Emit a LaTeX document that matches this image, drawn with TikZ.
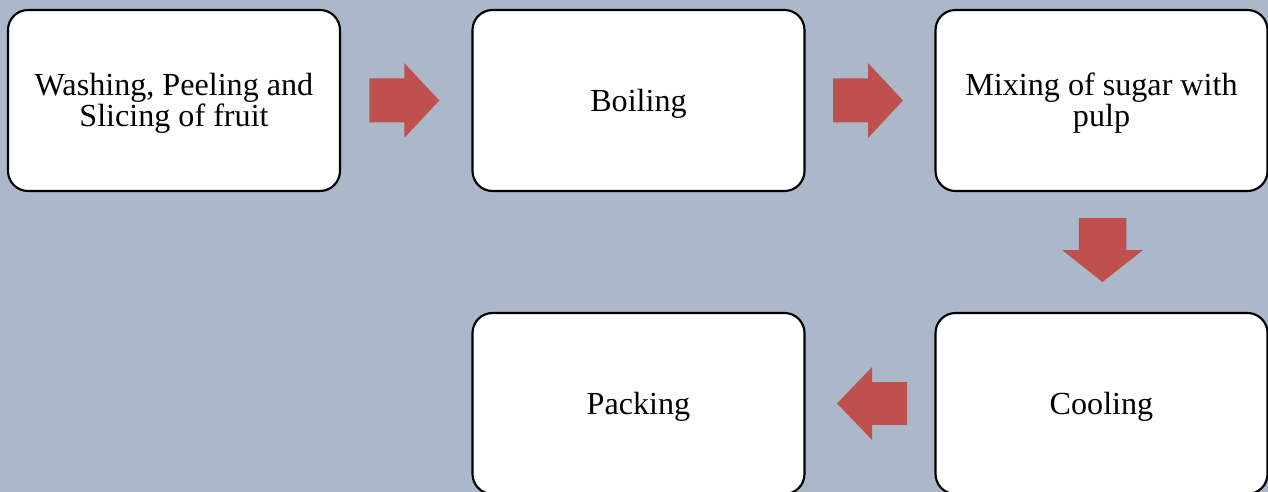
\documentclass[tikz,border=0pt]{standalone}
\usepackage{fontspec}
\setmainfont{Liberation Serif}
\usetikzlibrary{calc}
\definecolor{bgblue}{RGB}{171,184,202}
\definecolor{arrowred}{RGB}{192,80,77}
% step label: centred lines, lowered slightly inside the box (box size kept)
\newcommand{\steptext}[1]{\raisebox{-3pt}[\height][\depth]{\begin{tabular}{@{}c@{}}#1\end{tabular}}}
\tikzset{
  stepbox/.style={draw=black, line width=1.6pt, fill=white, rounded corners=15pt,
    minimum width=249pt, minimum height=135.75pt, inner sep=0pt, align=center,
    font=\fontsize{24.1}{22.5}\selectfont},
  blockarrow/.pic={\fill[arrowred] (-35,-22) -- (0,-22) -- (0,-37.5) -- (35,0)
    -- (0,37.5) -- (0,22) -- (-35,22) -- cycle;}
}
\begin{document}
\begin{tikzpicture}[x=0.75pt, y=-0.75pt]
  \useasboundingbox (0,0) rectangle (1268,492);
  \clip (0,0) rectangle (1268,492);
  \fill[bgblue] (0,0) rectangle (1268,492);

  % process steps
  \node[stepbox] (wash) at (174,100.5) {\steptext{Washing, Peeling and\\Slicing of fruit}};
  \node[stepbox] (boil) at (638.5,100.5) {\steptext{Boiling}};
  \node[stepbox] (mix)  at (1101.5,100.5) {\steptext{Mixing of sugar with\\pulp}};
  \node[stepbox] (cool) at (1101.5,403.5) {\steptext{Cooling}};
  \node[stepbox] (pack) at (638.5,403.5) {\steptext{Packing}};

  % block arrows between the steps
  \pic at ($(wash.east)!0.5!(boil.west)+(-2,0)$) {blockarrow};
  \pic at ($(boil.east)!0.5!(mix.west)+(-2,0)$) {blockarrow};
  \pic[rotate=-90, xscale=0.914, yscale=1.08] at ($(mix.south)!0.5!(cool.north)+(1,-2)$) {blockarrow};
  \pic[rotate=180, yscale=0.97] at ($(cool.west)!0.5!(pack.east)+(2,0)$) {blockarrow};
\end{tikzpicture}
\end{document}
